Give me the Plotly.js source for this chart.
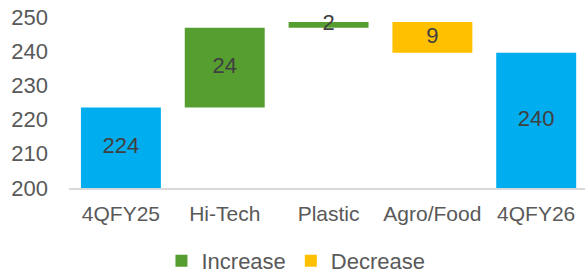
<!DOCTYPE html>
<html><head><meta charset="utf-8">
<script src="https://cdn.plot.ly/plotly-3.0.1.min.js"></script>
<style>html,body{margin:0;padding:0;background:#fff}#c{width:585px;height:274px}</style>
</head><body><div id="c"></div>
<script>
const categories = ['4QFY25','Hi-Tech','Plastic','Agro/Food','4QFY26'];
const startValue = 223.5;
const changes = [23.3, 1.7, -9.0];          // Hi-Tech, Plastic, Agro/Food
const endValue = 239.5;
const valueLabels = ['224','24','2','9','240'];

// derive bases from data
const changeCats = categories.slice(1, 4);
const bases = [];
let run = startValue;
changes.forEach(c => { bases.push(c >= 0 ? run : run + c); run += c; });

const incX = [], incBase = [], incLen = [], decX = [], decBase = [], decLen = [];
changes.forEach((c, i) => {
  if (c >= 0) { incX.push(changeCats[i]); incBase.push(bases[i]); incLen.push(c); }
  else { decX.push(changeCats[i]); decBase.push(bases[i]); decLen.push(-c); }
});

const W = 0.77;
const totals = {type:'bar', x:[categories[0], categories[4]], y:[startValue-200, endValue-200], base:[200,200],
  marker:{color:'#00ADEE'}, width:W, showlegend:false, hoverinfo:'skip'};
const inc = {type:'bar', name:'Increase', x:incX, y:incLen, base:incBase, marker:{color:'#569E30'}, width:W};
const dec = {type:'bar', name:'Decrease', x:decX, y:decLen, base:decBase, marker:{color:'#FFC000'}, width:W};

const mids = [(startValue+200)/2];
changes.forEach((c,i)=>{ mids.push(bases[i] + Math.abs(c)/2); });
mids.push((endValue+200)/2);
const txt = {type:'scatter', mode:'text', x:categories, y:mids, text:valueLabels,
  textfont:{family:'Liberation Sans, Arial, sans-serif', size:22, color:'#404040'}, showlegend:false, hoverinfo:'skip'};

const layout = {
  width:585, height:274,
  margin:{l:69, r:0, t:8, b:86, autoexpand:false},
  paper_bgcolor:'#fff', plot_bgcolor:'#fff',
  barmode:'overlay',
  font:{family:'Liberation Sans, Arial, sans-serif', size:22, color:'#595959'},
  xaxis:{type:'category', categoryarray:categories, range:[-0.5,4.47], showgrid:false, zeroline:false,
    showline:true, linecolor:'#D9D9D9', linewidth:2, ticks:'', ticklabelstandoff:6, automargin:false,
    tickfont:{size:21, color:'#595959'}},
  yaxis:{range:[200,252.6], tickvals:[200,210,220,230,240,250], showgrid:false, zeroline:false, automargin:false,
    showline:false, ticks:'', ticklabelstandoff:20, tickfont:{size:22, color:'#595959'}},
  legend:{orientation:'h', xref:'container', yref:'paper', x:0.276, xanchor:'left', y:-0.405, yanchor:'middle',
    font:{size:22, color:'#595959'}, itemwidth:30, traceorder:'normal', tracegroupgap:0},
  showlegend:true
};
Plotly.newPlot('c', [totals, inc, dec, txt], layout, {staticPlot:true});
</script></body></html>
